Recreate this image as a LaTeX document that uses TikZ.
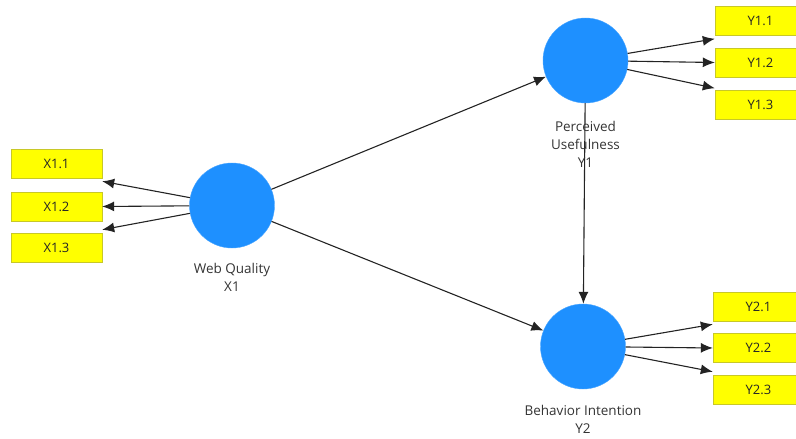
\documentclass[tikz,border=0pt]{standalone}
\usepackage{fontspec}
\setmainfont{Open Sans}
\usetikzlibrary{arrows.meta,positioning}
\definecolor{latentblue}{RGB}{30,144,255}
\definecolor{itemyellow}{RGB}{255,255,0}
\definecolor{itemborder}{RGB}{200,200,40}
\definecolor{linkgray}{RGB}{35,35,35}
\tikzset{
    latent/.style={circle,fill=latentblue,draw=latentblue!80!white,minimum size=85pt,inner sep=0pt},
    item/.style={rectangle,fill=itemyellow,draw=itemborder,minimum width=91pt,minimum height=29pt,inner sep=0pt,font=\fontsize{13}{15}\selectfont,text=black!85},
    caption/.style={align=center,font=\fontsize{13.5}{18}\selectfont,text=black!80,label distance=12pt},
    path/.style={-{Latex[length=12pt,width=10pt]},line width=1.1pt,draw=linkgray}
}

\begin{document}
\begin{tikzpicture}[x=1pt,y=-1pt]

    \useasboundingbox (0,0) rectangle (796,439);

    % latent variables
    \node[latent] (wq) at (232,205.5) [label={[caption]below:Web Quality\\X1}] {};
    \node[latent] (pu) at (585.5,60.5) {};
    \node[latent] (bi) at (583,346.5) {};

    % indicators of X1
    \node[item] (x12) at (56.5,206.5) {X1.2};
    \node[item] (x11) [above=13pt of x12] {X1.1};
    \node[item] (x13) [below=12pt of x12] {X1.3};

    % indicators of Y1
    \node[item] (y12) at (760.5,62.5) {Y1.2};
    \node[item] (y11) [above=12pt of y12] {Y1.1};
    \node[item] (y13) [below=13pt of y12] {Y1.3};

    % indicators of Y2
    \node[item] (y22) at (758.5,348) {Y2.2};
    \node[item] (y21) [above=12pt of y22] {Y2.1};
    \node[item] (y23) [below=12pt of y22] {Y2.3};

    % structural paths
    \draw[path] (wq) -- (pu);
    \draw[path] (wq) -- (bi);
    \draw[path] (pu) -- (bi);

    % captions drawn over the paths
    \node[caption,anchor=north] (pulabel) at ([yshift=-15pt]pu.south) {Perceived\\Usefulness\\Y1};
    \node[caption,anchor=north] (bilabel) at ([yshift=-13pt]bi.south) {Behavior Intention\\Y2};

    % outer loadings
    \draw[path] (wq) -- ([yshift=-2.5pt]x11.south east);
    \draw[path] (wq) -- (x12.east);
    \draw[path] (wq) -- ([yshift=3.5pt]x13.north east);

    \draw[path] (pu) -- ([yshift=-3pt]y11.south west);
    \draw[path] (pu) -- (y12.west);
    \draw[path] (pu) -- ([yshift=2pt]y13.north west);

    \draw[path] (bi) -- ([yshift=-3pt]y21.south west);
    \draw[path] (bi) -- (y22.west);
    \draw[path] (bi) -- ([yshift=3pt]y23.north west);

\end{tikzpicture}
\end{document}
